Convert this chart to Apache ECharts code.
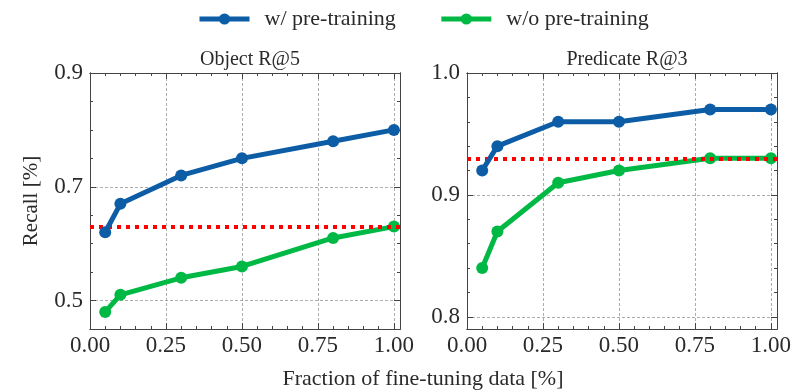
<!DOCTYPE html>
<html>
<head>
<meta charset="utf-8">
<script src="https://cdn.jsdelivr.net/npm/echarts@6/dist/echarts.min.js"></script>
<style>
html,body{margin:0;padding:0;background:#fff;}
#chart{width:798px;height:392px;}
</style>
</head>
<body>
<div id="chart"></div>
<script>
// fraction of fine-tuning data
const fractions = [0.05, 0.1, 0.3, 0.5, 0.8, 1.0];

// Object R@5
const objWith = [0.62, 0.67, 0.72, 0.75, 0.78, 0.80];
const objWithout = [0.48, 0.51, 0.54, 0.56, 0.61, 0.63];
const objBaseline = 0.63;

// Predicate R@3
const predWith = [0.92, 0.94, 0.96, 0.96, 0.97, 0.97];
const predWithout = [0.84, 0.87, 0.91, 0.92, 0.93, 0.93];
const predBaseline = 0.93;

const xTicks = [0, 0.25, 0.5, 0.75, 1.0];
const objYTicks = [0.5, 0.7, 0.9];
const predYTicks = [0.8, 0.9, 1.0];

const BLUE = '#0C5DA5', GREEN = '#00B945', RED = '#ff0000';
const FONT = '"Liberation Serif", "DejaVu Serif", serif';
const INK = '#2a2a2a';
const FRAME = '#444';

function steps(min, max, step){
    let out = [];
    for(let i = 0; min + i*step <= max + 1e-9; i++){
        out.push(+(min + i*step).toFixed(4));
    }
    return out;
}

const panels = [
    {left: 90, yMin: 0.45, yMax: 0.9, yTicks: objYTicks, yMinor: steps(0.45, 0.9, 0.05),
     title: 'Object R@5', withData: objWith, withoutData: objWithout, base: objBaseline},
    {left: 467, yMin: 0.79, yMax: 1.0, yTicks: predYTicks, yMinor: steps(0.8, 1.0, 0.02),
     title: 'Predicate R@3', withData: predWith, withoutData: predWithout, base: predBaseline}
];
const xMax = 1.02;
const xMinor = steps(0, 1.0, 0.05);

let grids = [], xAxes = [], yAxes = [], series = [], titles = [];

// one axis = frame side + ticks (major or minor), labels only where asked
function makeAxis(gridIndex, min, max, position, ticks, len){
    return {
        type: 'value', gridIndex: gridIndex, min: min, max: max, position: position,
        axisLine: {show: true, onZero: false, lineStyle: {color: FRAME, width: 1}},
        axisTick: {show: true, inside: true, length: len, customValues: ticks, lineStyle: {color: FRAME, width: 1}},
        axisLabel: {show: false},
        splitLine: {show: false}
    };
}
const gridLine = {show: true, lineStyle: {color: '#8a8a8a', width: 0.7, type: [3, 2]}};

panels.forEach((p, i) => {
    grids.push({left: p.left, top: 73, width: 310, height: 256});

    let xb = makeAxis(i, 0, xMax, 'bottom', xTicks, 6);
    xb.axisLabel = {show: true, customValues: xTicks, margin: 5, fontFamily: FONT, fontSize: 23, color: INK,
        formatter: v => v.toFixed(2)};
    xb.splitLine = gridLine;
    xAxes.push(xb);
    xAxes.push(makeAxis(i, 0, xMax, 'bottom', xMinor, 3));
    xAxes.push(makeAxis(i, 0, xMax, 'top', xTicks, 6));
    xAxes.push(makeAxis(i, 0, xMax, 'top', xMinor, 3));

    let yl = makeAxis(i, p.yMin, p.yMax, 'left', p.yTicks, 6);
    yl.axisLabel = {show: true, customValues: p.yTicks, margin: 7, fontFamily: FONT, fontSize: 23, color: INK,
        formatter: v => v.toFixed(1)};
    yl.splitLine = gridLine;
    yAxes.push(yl);
    yAxes.push(makeAxis(i, p.yMin, p.yMax, 'left', p.yMinor, 3));
    yAxes.push(makeAxis(i, p.yMin, p.yMax, 'right', p.yTicks, 6));
    yAxes.push(makeAxis(i, p.yMin, p.yMax, 'right', p.yMinor, 3));

    const xi = i*4, yi = i*4;
    const pairs = arr => fractions.map((x, k) => [x, arr[k]]);

    series.push({
        name: 'w/o pre-training', type: 'line', xAxisIndex: xi, yAxisIndex: yi,
        data: pairs(p.withoutData), symbol: 'circle', symbolSize: 12, clip: false, z: 3,
        lineStyle: {color: GREEN, width: 5}, itemStyle: {color: GREEN}
    });
    series.push({
        name: 'baseline', type: 'line', xAxisIndex: xi, yAxisIndex: yi, data: [], z: 4,
        markLine: {
            silent: true, symbol: 'none', label: {show: false},
            lineStyle: {color: RED, width: 4, type: [4, 5], cap: 'butt'},
            data: [{yAxis: p.base}]
        }
    });
    series.push({
        name: 'w/ pre-training', type: 'line', xAxisIndex: xi, yAxisIndex: yi,
        data: pairs(p.withData), symbol: 'circle', symbolSize: 12, clip: false, z: 5,
        lineStyle: {color: BLUE, width: 5}, itemStyle: {color: BLUE}
    });

    titles.push({
        text: p.title, left: p.left + 155, top: 45, textAlign: 'center',
        textStyle: {fontFamily: FONT, fontSize: 20, fontWeight: 'normal', color: INK}
    });
});

const chart = echarts.init(document.getElementById('chart'));
chart.setOption({
    animation: false,
    backgroundColor: '#fff',
    title: titles,
    legend: {
        data: ['w/ pre-training', 'w/o pre-training'],
        left: 192, top: 3,
        itemWidth: 50, itemHeight: 14, itemGap: 43,
        lineStyle: {width: 5},
        textStyle: {fontFamily: FONT, fontSize: 22, color: INK, padding: [0, 0, 0, 10]}
    },
    grid: grids,
    xAxis: xAxes,
    yAxis: yAxes,
    series: series,
    graphic: [
        {type: 'text', x: 31, y: 201, rotation: Math.PI/2,
         style: {text: 'Recall [%]', align: 'center', verticalAlign: 'middle', fontFamily: FONT, fontSize: 21, fill: INK}},
        {type: 'text', x: 423, y: 379,
         style: {text: 'Fraction of fine-tuning data [%]', align: 'center', verticalAlign: 'middle', fontFamily: FONT, fontSize: 22, fill: INK}}
    ]
});
</script>
</body>
</html>
